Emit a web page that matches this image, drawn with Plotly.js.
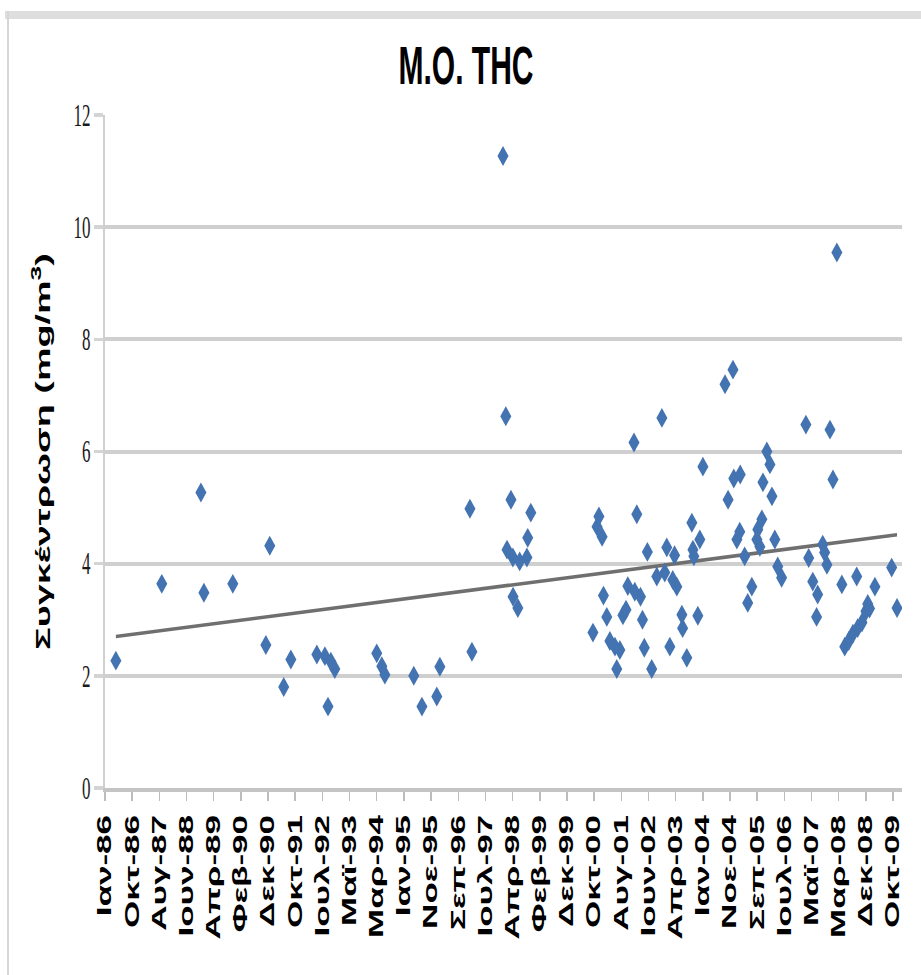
<!DOCTYPE html>
<html>
<head>
<meta charset="utf-8">
<script src="https://cdn.plot.ly/plotly-3.0.1.min.js"></script>
<style>
html,body{margin:0;padding:0;background:#fff;overflow:hidden;}
#wrap{width:921px;height:975px;overflow:hidden;position:relative;background:#fff;}
#chart{position:absolute;left:0;top:0;width:921px;height:542px;transform:scaleY(1.79889);transform-origin:0 0;}
#topband{position:absolute;left:5px;right:0;top:11px;height:8px;background:#dedede;}
#leftline{position:absolute;left:7px;width:2px;top:11px;bottom:0;background:#d6d6d6;}
</style>
</head>
<body>
<div id="wrap"><div id="chart"></div><div id="topband"></div><div id="leftline"></div></div>
<script>
// ---- data ----
const dates = [
 '1986-05-01','1987-09-20','1988-11-25','1988-12-28','1989-11-12','1990-11-12','1990-12-25','1991-05-28','1991-08-15',
 '1992-05-28','1992-08-25','1992-09-28','1992-10-30','1992-12-12','1994-03-20','1994-05-15','1994-06-18','1995-05-03',
 '1995-08-01','1996-01-12','1996-02-15','1997-01-12','1997-02-03','1998-01-12','1998-02-12','1998-02-25','1998-04-10',
 '1998-05-01','1998-05-03','1998-06-25','1998-07-15','1998-10-03','1998-10-12','1998-11-15',
 '2000-10-01','2000-11-15','2000-12-06','2001-01-10','2001-01-25','2001-03-03','2001-04-06','2001-06-01','2001-06-21',
 '2001-07-25','2001-08-28','2001-10-01','2001-10-21','2001-12-28','2002-01-06','2002-01-28','2002-03-10','2002-04-01',
 '2002-04-21','2002-05-25','2002-07-12','2002-09-06','2002-11-01','2002-12-03','2002-12-25','2003-01-28','2003-03-01',
 '2003-03-21','2003-04-15','2003-06-10','2003-06-18','2003-08-03','2003-09-28','2003-10-10','2003-10-20','2003-12-03',
 '2003-12-25','2004-01-28','2004-09-28','2004-11-01','2004-12-25','2005-01-03','2005-02-06','2005-03-10','2005-03-15',
 '2005-05-03','2005-06-06','2005-07-21','2005-09-15','2005-09-25','2005-10-18','2005-11-09','2005-11-21','2006-01-03',
 '2006-02-06','2006-02-28','2006-04-01','2006-05-03','2006-06-15','2007-03-10','2007-04-10','2007-05-25','2007-07-06',
 '2007-07-18','2007-09-12','2007-10-03','2007-10-28','2007-12-01','2008-01-03','2008-02-15','2008-04-10','2008-05-12',
 '2008-06-25','2008-08-10','2008-09-21','2008-10-01','2008-11-18','2009-01-01','2009-01-21','2009-02-10','2009-04-10',
 '2009-10-12','2009-12-10'
];
const values = [
 2.27,3.64,5.27,3.48,3.64,2.55,4.32,1.80,2.29,
 2.38,2.35,1.45,2.25,2.12,2.40,2.17,2.02,2.00,
 1.45,1.63,2.16,4.98,2.43,11.27,6.63,4.25,5.14,
 4.11,3.41,3.21,4.04,4.11,4.46,4.91,
 2.77,4.66,4.84,4.48,3.43,3.05,2.62,2.52,2.12,
 2.46,3.08,3.18,3.60,6.16,3.50,4.88,3.41,3.00,
 2.50,4.21,2.12,3.77,6.60,3.84,4.29,2.52,3.71,
 4.15,3.59,3.09,2.85,2.32,4.73,4.25,4.13,3.07,
 4.43,5.73,7.20,5.14,7.46,5.52,4.43,4.57,5.59,
 4.13,3.30,3.59,4.43,4.61,4.30,4.79,5.45,6.00,
 5.77,5.20,4.43,3.95,3.75,6.48,4.10,3.68,3.05,
 3.45,4.34,4.20,3.98,6.39,5.50,9.55,3.63,2.52,
 2.62,2.75,3.77,2.85,2.95,3.15,3.28,3.20,3.59,
 3.93,3.21
];
const tickLabels = ['Ιαν-86','Οκτ-86','Αυγ-87','Ιουν-88','Απρ-89','Φεβ-90','Δεκ-90','Οκτ-91','Ιουλ-92','Μαϊ-93',
 'Μαρ-94','Ιαν-95','Νοε-95','Σεπ-96','Ιουλ-97','Απρ-98','Φεβ-99','Δεκ-99','Οκτ-00','Αυγ-01',
 'Ιουν-02','Απρ-03','Ιαν-04','Νοε-04','Σεπ-05','Ιουλ-06','Μαϊ-07','Μαρ-08','Δεκ-08','Οκτ-09'];
const axisStart = '1986-01-01';
const axisEnd = '2010-02-03';
const tickStepDays = 300;

// ---- derived ----
const DAY = 86400000;
const t0 = Date.parse(axisStart + 'T00:00:00Z');
const tickVals = tickLabels.map((_, i) => new Date(t0 + i * tickStepDays * DAY).toISOString().slice(0, 10));

// linear trend (least squares on date)
const xs = dates.map(d => Date.parse(d + 'T00:00:00Z'));
const n = xs.length;
const mx = xs.reduce((a, b) => a + b, 0) / n;
const my = values.reduce((a, b) => a + b, 0) / n;
let sxy = 0, sxx = 0;
for (let i = 0; i < n; i++) { sxy += (xs[i] - mx) * (values[i] - my); sxx += (xs[i] - mx) ** 2; }
const slope = sxy / sxx, icpt = my - slope * mx;
const trendX = [dates[0], dates[n - 1]];
const trendY = [xs[0], xs[n - 1]].map(x => icpt + slope * x);

const FONT = 'Liberation Sans, Arial, sans-serif';

const traces = [
  { x: trendX, y: trendY, type: 'scatter', mode: 'lines',
    line: { color: '#6f6f6f', width: 2 }, hoverinfo: 'skip', showlegend: false },
  { x: dates, y: values, type: 'scatter', mode: 'markers',
    marker: { symbol: 'diamond', size: 8.5, color: '#4373b1', line: { width: 0 } }, showlegend: false }
];

const layout = {
  width: 921, height: 542,
  margin: { l: 105, r: 19, t: 64, b: 104 },
  paper_bgcolor: '#fff', plot_bgcolor: '#fff',
  showlegend: false,
  title: { text: 'M.O. THC', font: { family: FONT, size: 30, weight: 'bold', color: '#000' },
           xref: 'container', x: 0.506, yref: 'container', y: 0.933, yanchor: 'middle' },
  xaxis: {
    type: 'date', range: [axisStart, axisEnd],
    tickmode: 'array', tickvals: tickVals, ticktext: tickLabels, tickangle: -90,
    tickfont: { family: FONT, size: 19.5, weight: 'bold', color: '#000' },
    showgrid: false, zeroline: false,
    showline: true, linecolor: '#c4c4c4', linewidth: 2.2,
    ticks: 'outside', ticklen: 5, tickwidth: 1.5, tickcolor: '#bdbdbd',
    fixedrange: true
  },
  yaxis: {
    range: [0, 12], tick0: 0, dtick: 2,
    showgrid: true, gridcolor: '#cfcfcf', gridwidth: 2.2, zeroline: false,
    showline: true, linecolor: '#d0d0d0', linewidth: 2,
    ticks: 'outside', ticklen: 9, tickwidth: 2, tickcolor: '#d4d4d4',
    tickfont: { family: 'Liberation Serif, Times New Roman, serif', size: 17, color: '#1a1a1a' },
    title: { text: 'Συγκέντρωση (mg/m<sup>3</sup>)', font: { family: FONT, size: 21, weight: 'bold', color: '#000' }, standoff: 17 },
    fixedrange: true
  }
};

Plotly.newPlot('chart', traces, layout, { displayModeBar: false, staticPlot: true });
</script>
</body>
</html>
